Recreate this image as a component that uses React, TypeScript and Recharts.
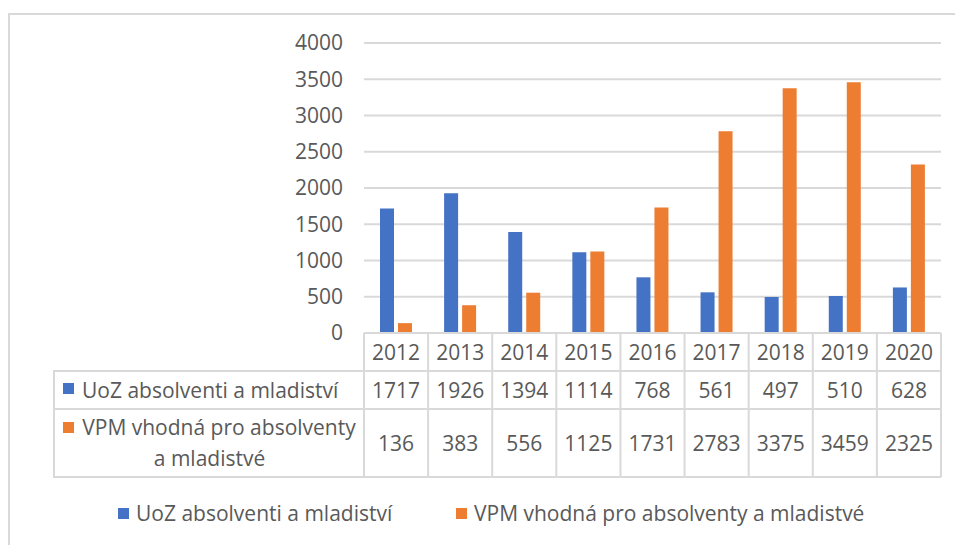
import React from 'react';
import { BarChart, Bar, XAxis, YAxis, CartesianGrid } from 'recharts';

const years = ['2012', '2013', '2014', '2015', '2016', '2017', '2018', '2019', '2020'];
const uozValues = [1717, 1926, 1394, 1114, 768, 561, 497, 510, 628];
const vpmValues = [136, 383, 556, 1125, 1731, 2783, 3375, 3459, 2325];
const seriesNames = ['UoZ absolventi a mladiství', 'VPM vhodná pro absolventy a mladistvé'];
const seriesColors = ['#4472C4', '#ED7D31'];
const yTicks = [0, 500, 1000, 1500, 2000, 2500, 3000, 3500, 4000];

const data = years.map((year, i) => ({ year, uoz: uozValues[i], vpm: vpmValues[i] }));

const FONT = "'Open Sans', sans-serif";
const TEXT = '#595959';
const LINE = '#D9D9D9';
const FS = 21;

// table row boundaries (below the plot)
const ROW_TOP = 333;
const ROW_1 = 371;
const ROW_2 = 409;
const ROW_BOTTOM = 477;

const TableColumn = (props: any) => {
    const { x, index, width, visibleTicksCount } = props;
    const bw = width && visibleTicksCount ? width / visibleTicksCount : 64.1;
    const left = x - bw / 2;
    const right = x + bw / 2;
    const last = index === years.length - 1;
    return (
        <g>
            <line x1={left} x2={right} y1={ROW_TOP} y2={ROW_TOP} stroke={LINE} strokeWidth={2} />
            <line x1={left} x2={right} y1={ROW_1} y2={ROW_1} stroke={LINE} strokeWidth={2} />
            <line x1={left} x2={right} y1={ROW_2} y2={ROW_2} stroke={LINE} strokeWidth={2} />
            <line x1={left} x2={right} y1={ROW_BOTTOM} y2={ROW_BOTTOM} stroke={LINE} strokeWidth={2} />
            <line x1={left} x2={left} y1={ROW_TOP} y2={ROW_BOTTOM} stroke={LINE} strokeWidth={2} />
            {last && <line x1={right} x2={right} y1={ROW_TOP} y2={ROW_BOTTOM} stroke={LINE} strokeWidth={2} />}
            <text x={x} y={(ROW_TOP + ROW_1) / 2} textAnchor="middle" dominantBaseline="central" fill={TEXT} fontSize={FS} fontFamily={FONT}>
                {years[index]}
            </text>
            <text x={x} y={(ROW_1 + ROW_2) / 2} textAnchor="middle" dominantBaseline="central" fill={TEXT} fontSize={FS} fontFamily={FONT}>
                {uozValues[index]}
            </text>
            <text x={x} y={(ROW_2 + ROW_BOTTOM) / 2} textAnchor="middle" dominantBaseline="central" fill={TEXT} fontSize={FS} fontFamily={FONT}>
                {vpmValues[index]}
            </text>
        </g>
    );
};

const Swatch = ({ color, gap = 8 }: { color: string; gap?: number }) => (
    <span style={{ display: 'inline-block', width: 11, height: 11, background: color, marginRight: gap, verticalAlign: 'middle', position: 'relative', top: -2 }} />
);

export default function App() {
    return (
        <div style={{ position: 'relative', width: 955, height: 545, overflow: 'hidden', background: '#fff', fontFamily: FONT, color: TEXT }}>
            <style>{'body{margin:0}'}</style>
            <div style={{ position: 'absolute', left: 8, top: 13, width: 1000, height: 600, borderLeft: `2px solid ${LINE}`, borderTop: `2px solid ${LINE}` }} />

            <div style={{ position: 'absolute', left: 0, top: 0 }}>
                <BarChart
                    width={955}
                    height={545}
                    data={data}
                    margin={{ top: 43, right: 14, left: 304, bottom: 68 }}
                    barSize={14}
                    barGap={4}
                >
                    <CartesianGrid horizontal vertical={false} stroke={LINE} strokeWidth={2} />
                    <XAxis
                        dataKey="year"
                        height={144}
                        axisLine={false}
                        tickLine={false}
                        tickSize={0}
                        tickMargin={0}
                        interval={0}
                        tick={<TableColumn />}
                    />
                    <YAxis
                        width={60}
                        domain={[0, 4000]}
                        ticks={yTicks}
                        axisLine={false}
                        tickLine={false}
                        tickSize={0}
                        tickMargin={21}
                        tick={{ fill: TEXT, fontSize: FS, fontFamily: FONT }}
                    />
                    <Bar dataKey="uoz" name={seriesNames[0]} fill={seriesColors[0]} isAnimationActive={false} />
                    <Bar dataKey="vpm" name={seriesNames[1]} fill={seriesColors[1]} isAnimationActive={false} />
                </BarChart>
            </div>

            {/* series header column of the data table */}
            <div style={{ position: 'absolute', left: 53, top: ROW_1 - 1, width: 311, boxSizing: 'border-box', borderLeft: `2px solid ${LINE}`, fontSize: FS }}>
                <div style={{ height: ROW_2 - ROW_1, borderTop: `2px solid ${LINE}`, boxSizing: 'border-box', display: 'flex', alignItems: 'center', paddingLeft: 8, whiteSpace: 'nowrap' }}>
                    <Swatch color={seriesColors[0]} />
                    {seriesNames[0]}
                </div>
                <div style={{ height: ROW_BOTTOM - ROW_2 + 2, borderTop: `2px solid ${LINE}`, borderBottom: `2px solid ${LINE}`, boxSizing: 'border-box', display: 'flex', alignItems: 'center', justifyContent: 'center', textAlign: 'center', lineHeight: '31px' }}>
                    <div style={{ width: 300 }}>
                        <Swatch color={seriesColors[1]} />
                        {seriesNames[1]}
                    </div>
                </div>
            </div>

            {/* legend */}
            <div style={{ position: 'absolute', top: 499, left: 0, width: 955, fontSize: FS, whiteSpace: 'nowrap' }}>
                <div style={{ position: 'absolute', left: 118 }}>
                    <Swatch color={seriesColors[0]} gap={7} />
                    {seriesNames[0]}
                </div>
                <div style={{ position: 'absolute', left: 456 }}>
                    <Swatch color={seriesColors[1]} gap={7} />
                    {seriesNames[1]}
                </div>
            </div>
        </div>
    );
}
